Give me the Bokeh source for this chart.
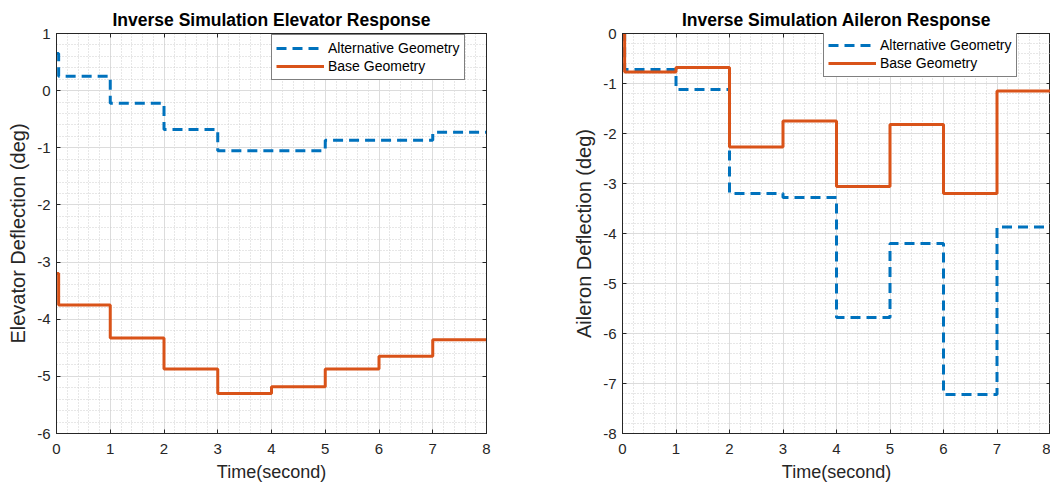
from bokeh.plotting import figure
from bokeh.models import (Range1d, SingleIntervalTicker, LinearAxis, Legend,
                          LegendItem, CustomJSTickFormatter)
from bokeh.layouts import row
from bokeh.embed import file_html
from bokeh.resources import INLINE

# ---- data ----
step_times = [0, 0.04, 1, 2, 3, 4, 5, 6, 7, 8]
elev_alt = [0.65, 0.25, -0.22, -0.68, -1.05, -1.05, -0.87, -0.87, -0.73, -0.73]
elev_base = [-3.2, -3.75, -4.33, -4.87, -5.30, -5.18, -4.87, -4.65, -4.36, -4.36]
ail_alt = [0.0, -0.72, -1.12, -3.20, -3.28, -5.68, -4.20, -7.22, -3.87, -3.87]
ail_base = [0.0, -0.77, -0.68, -2.27, -1.75, -3.06, -1.82, -3.20, -1.15, -1.15]

FONT = "Liberation Sans"
AXC = "#262626"
BLUE = "#0072BD"
ORANGE = "#D95319"


def make_fig(title, ylabel, ymin, ymax, alt, base, width, mbl, mbr, legend_xy):
    p = figure(width=width, height=486, output_backend="svg", toolbar_location=None,
               x_range=Range1d(0, 8), y_range=Range1d(ymin, ymax),
               min_border_left=mbl, min_border_right=mbr,
               min_border_top=33, min_border_bottom=53)
    p.background_fill_color = "white"
    p.border_fill_color = "white"
    p.outline_line_color = AXC
    p.outline_line_width = 1

    xt = SingleIntervalTicker(interval=1, num_minor_ticks=5)
    yt = SingleIntervalTicker(interval=1, num_minor_ticks=5)
    fmt = CustomJSTickFormatter(code="return tick.toFixed(0);")
    p.xaxis.ticker = xt
    p.yaxis.ticker = yt
    p.xaxis.formatter = fmt
    p.yaxis.formatter = fmt
    p.xgrid.ticker = xt
    p.ygrid.ticker = yt

    for ax in (p.xaxis[0], p.yaxis[0]):
        ax.axis_line_color = AXC
        ax.major_tick_line_color = AXC
        ax.major_tick_in = 4
        ax.major_tick_out = 0
        ax.minor_tick_in = 0
        ax.minor_tick_out = 0
        ax.major_label_text_font = FONT
        ax.major_label_text_font_size = "15px"
        ax.major_label_text_color = AXC
        ax.axis_label_text_font = FONT
        ax.axis_label_text_font_style = "normal"
        ax.axis_label_text_color = AXC
    p.xaxis.axis_label = "Time(second)"
    p.xaxis.axis_label_text_font_size = "18px"
    p.xaxis.major_label_standoff = 10
    p.xaxis.axis_label_standoff = 5
    p.yaxis.axis_label = ylabel
    p.yaxis.axis_label_text_font_size = "20px"
    p.yaxis.major_label_standoff = 6
    p.yaxis.axis_label_standoff = 5

    for g in (p.xgrid, p.ygrid):
        g.grid_line_color = "#dcdcdc"
        g.grid_line_width = 1
        g.minor_grid_line_color = "#cfcfcf"
        g.minor_grid_line_dash = "1 2"
        g.minor_grid_line_width = 1

    # box ticks on top and right
    for loc, tk in (("above", xt), ("right", yt)):
        ax = LinearAxis(ticker=tk, formatter=CustomJSTickFormatter(code="return ''"),
                        major_tick_in=4, major_tick_out=0, minor_tick_in=0,
                        minor_tick_out=0, major_label_standoff=0,
                        major_label_text_font_size="1px",
                        axis_line_color=AXC, major_tick_line_color=AXC)
        p.add_layout(ax, loc)

    p.title.text = title
    p.title.align = "center"
    p.title.text_font = FONT
    p.title.text_font_size = "17.5px"
    p.title.text_font_style = "bold"
    p.title.text_color = "black"
    p.title.standoff = 8

    r1 = p.step(step_times, alt, mode="after", line_color=BLUE, line_width=3,
                line_dash="10 6")
    r2 = p.step(step_times, base, mode="after", line_color=ORANGE, line_width=3)

    leg = Legend(items=[LegendItem(label="Alternative Geometry", renderers=[r1]),
                        LegendItem(label="Base Geometry", renderers=[r2])],
                 location=legend_xy, margin=0, padding=4, spacing=0,
                 glyph_width=48, glyph_height=18, label_height=18,
                 label_standoff=4, label_text_font=FONT,
                 label_text_font_size="14px", label_text_color="black",
                 border_line_color="black", border_line_width=1,
                 background_fill_color="white", background_fill_alpha=1.0)
    p.add_layout(leg)
    return p


p1 = make_fig("Inverse Simulation Elevator Response", "Elevator Deflection (deg)",
              -6, 1, elev_alt, elev_base, 560, 56, 74, (215, 353))
p2 = make_fig("Inverse Simulation Aileron Response", "Aileron Deflection (deg)",
              -8, 0, ail_alt, ail_base, 490, 62, 0, (201, 356))

layout = row(p1, p2)
open("out.html", "w").write(file_html(layout, INLINE))
